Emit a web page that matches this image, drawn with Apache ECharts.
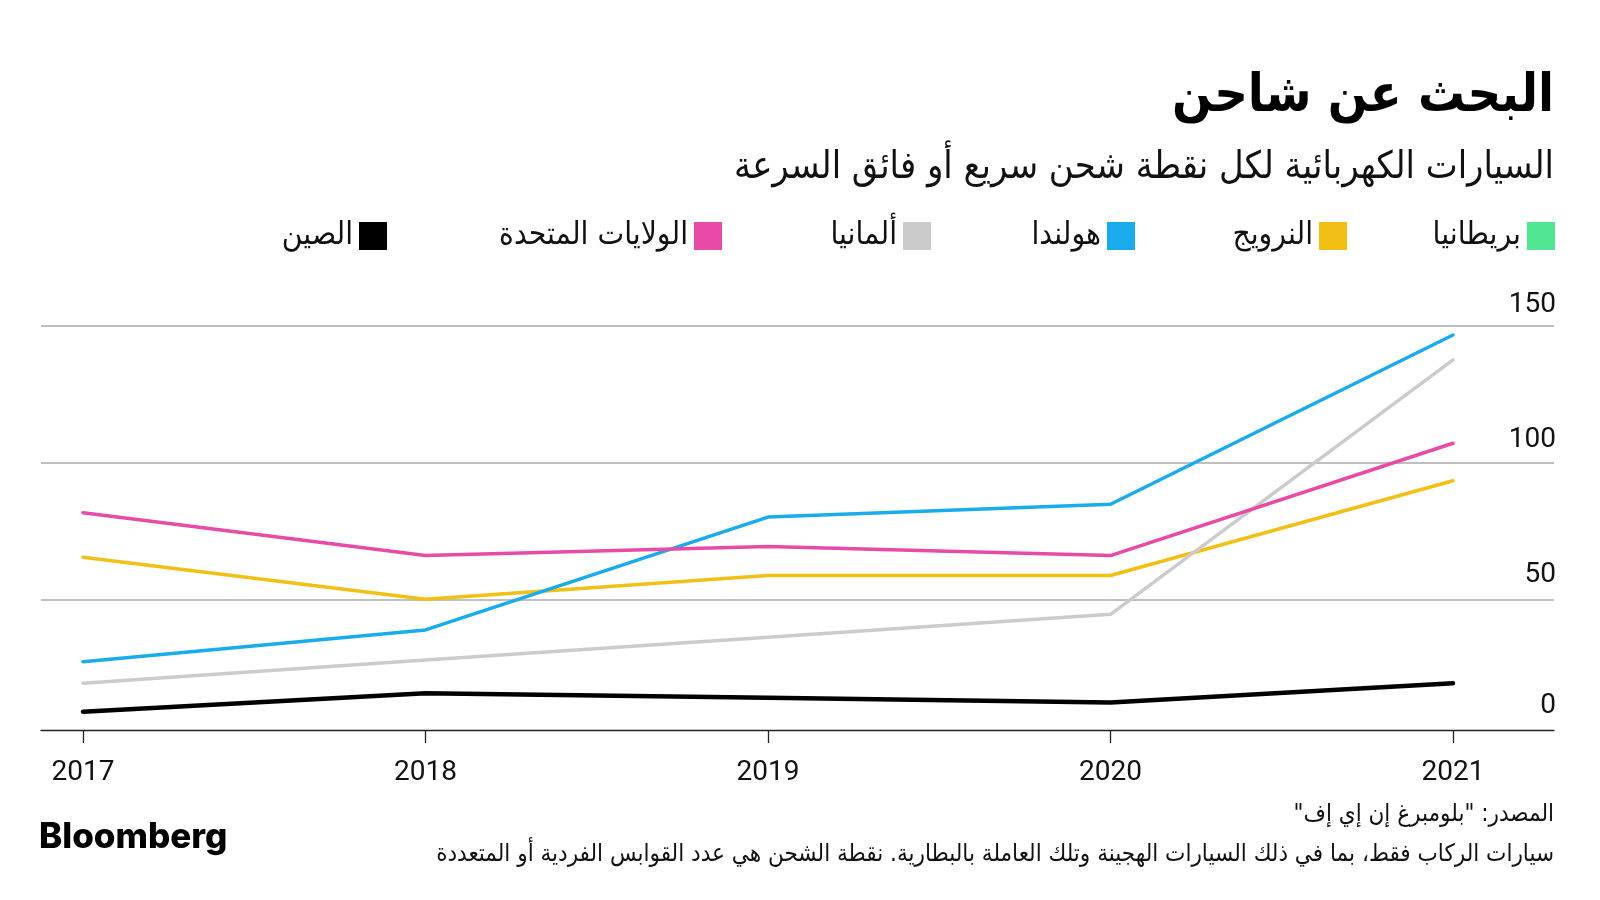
<!DOCTYPE html>
<html>
<head>
<meta charset="utf-8">
<script src="https://cdn.jsdelivr.net/npm/echarts@6/dist/echarts.min.js"></script>
<style>
  html, body { margin: 0; padding: 0; background: #fff; }
  #chart { position: absolute; left: 0; top: 0; width: 1600px; height: 900px; direction: rtl; }
</style>
</head>
<body>
<div id="chart"></div>
<script>
// ---- data ----
const years = [2017, 2018, 2019, 2020, 2021];
const seriesNames = ['بريطانيا', 'النرويج', 'هولندا', 'ألمانيا', 'الولايات المتحدة', 'الصين'];
const ukValues = [null, null, null, null, null];
const norwayValues = [65.4, 50.0, 58.7, 58.7, 93.4];
const netherlandsValues = [27.2, 38.8, 80.1, 84.8, 146.7];
const germanyValues = [19.3, 27.8, 36.1, 44.5, 137.6];
const usValues = [81.7, 66.0, 69.3, 66.0, 107.1];
const chinaValues = [8.9, 15.6, 14.0, 12.3, 19.3];
const yTicks = [0, 50, 100, 150];
const titleText = 'البحث عن شاحن';
const subtitleText = 'السيارات الكهربائية لكل نقطة شحن سريع أو فائق السرعة';
const sourceText = 'المصدر: "بلومبرغ إن إي إف"';
const noteText = 'سيارات الركاب فقط، بما في ذلك السيارات الهجينة وتلك العاملة بالبطارية. نقطة الشحن هي عدد القوابس الفردية أو المتعددة';
const brandText = 'Bloomberg';

// ---- styles ----
const colors = ['#50e592', '#f2bf14', '#1aabec', '#cbcbcb', '#e84aa7', '#000000'];
const allValues = [ukValues, norwayValues, netherlandsValues, germanyValues, usValues, chinaValues];
const lineWidths = [3.5, 3.5, 3.5, 3.5, 3.5, 4.5];
const legendRights = [45, 253, 465, 669, 878, 1213];
const arabicFont = '"DejaVu Sans Condensed", "DejaVu Sans", "Noto Sans", sans-serif';
const numFont = 'Roboto, "Liberation Sans", sans-serif';

const chart = echarts.init(document.getElementById('chart'), null, { renderer: 'canvas' });

const series = seriesNames.map((name, i) => ({
  name: name,
  type: 'line',
  data: years.map((y, j) => [y, allValues[i][j]]),
  showSymbol: false,
  symbol: 'none',
  smooth: false,
  lineStyle: { color: colors[i], width: lineWidths[i], cap: 'round', join: 'round' },
  itemStyle: { color: colors[i] },
  z: 2 + i,
  animation: false
}));

const legends = seriesNames.map((name, i) => ({
  data: [name],
  right: legendRights[i],
  top: 220,
  align: 'right',
  orient: 'horizontal',
  icon: 'rect',
  itemWidth: 28,
  itemHeight: 28,
  selectedMode: false,
  padding: 0,
  itemStyle: { borderWidth: 0 },
  textStyle: { fontFamily: arabicFont, fontSize: 31.5, color: '#111', padding: [0, 1, 0, 0] }
}));

const labelPad = { 0: 18, 50: 5, 100: 2, 150: 0 };

const option = {
  backgroundColor: '#ffffff',
  animation: false,
  color: colors,
  legend: legends,
  grid: { left: 41, right: 46, top: 326, bottom: 164, containLabel: false, outerBoundsMode: 'none' },
  xAxis: {
    type: 'value',
    min: 2016.8774,
    max: 2021.2949,
    axisLine: { show: true, onZero: false, lineStyle: { color: '#222', width: 1.3 } },
    offset: -6,
    axisTick: { show: true, length: 13, customValues: years, lineStyle: { color: '#222', width: 1.3 } },
    axisLabel: {
      customValues: years, margin: 29, fontSize: 28, fontFamily: numFont, color: '#111',
      formatter: v => String(Math.round(v))
    },
    splitLine: { show: false }
  },
  yAxis: {
    type: 'value',
    position: 'right',
    min: 0, max: 150, interval: 50,
    axisLine: { show: false },
    axisTick: { show: false },
    splitLine: { show: true, showMinLine: false, lineStyle: { color: '#aaaaaa', width: 1.5 } },
    axisLabel: {
      inside: true, margin: -2, fontSize: 28, fontFamily: numFont, color: '#111',
      verticalAlign: 'middle', padding: [0, 0, 43, 0],
      formatter: v => '{v' + v + '|' + v + '}',
      rich: Object.fromEntries(yTicks.map(t => ['v' + t, {
        fontSize: 28, fontFamily: numFont, color: '#111', padding: [0, 0, labelPad[t], 0]
      }]))
    }
  },
  graphic: [
    { type: 'text', x: 1554, y: 97, style: { text: titleText, textAlign: 'right', textVerticalAlign: 'middle', font: 'bold 52px ' + arabicFont, fill: '#000' } },
    { type: 'text', x: 1554, y: 168, style: { text: subtitleText, textAlign: 'right', textVerticalAlign: 'middle', font: '37.7px ' + arabicFont, fill: '#111' } },
    { type: 'text', x: 1554, y: 815, style: { text: sourceText, textAlign: 'right', textVerticalAlign: 'middle', font: '24px ' + arabicFont, fill: '#111' } },
    { type: 'text', x: 1554, y: 855, style: { text: noteText, textAlign: 'right', textVerticalAlign: 'middle', font: '24px ' + arabicFont, fill: '#111' } },
    { type: 'text', x: 39, y: 837, style: { text: brandText, textAlign: 'left', textVerticalAlign: 'middle', font: '800 35px Inter, Roboto, sans-serif', fill: '#000' } }
  ],
  series: series
};

chart.setOption(option);
</script>
</body>
</html>
